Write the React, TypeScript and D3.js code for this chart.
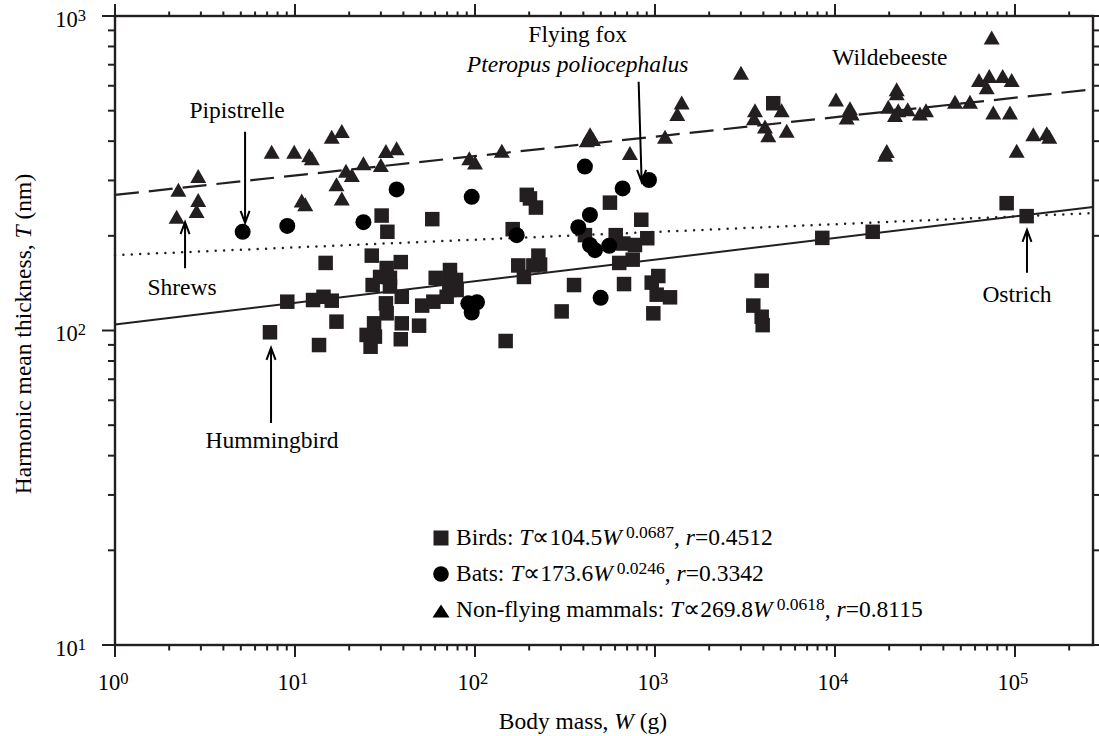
import { useEffect, useRef } from 'react'
import * as d3 from 'd3'

// [body mass W (g), harmonic mean thickness T (nm)]
const birds: [number, number][] = [
  [7.26, 98.7], [9.06, 123.5], [14.8, 164], [12.6, 125], [14.4, 128], [16.0, 124.4], [17.0, 106.7], [13.6, 89.9],
  [30.3, 232], [32.6, 206], [57.9, 226], [26.7, 173], [38.7, 165], [32.3, 158], [29.7, 148], [33.7, 147],
  [27.0, 139.5], [33.7, 138], [39.2, 128], [32.0, 122], [32.3, 113.4], [27.5, 105.4], [25.0, 96.8], [27.8, 95.6],
  [26.3, 88.8], [39.2, 105.4], [48.9, 103.6], [38.7, 93.8], [50.9, 120], [58.7, 123.5], [60.5, 147], [72.6, 155.7],
  [72.6, 146.6], [78.4, 144.8], [72.0, 134.5], [79.1, 134.5], [69.6, 128],
  [194, 270], [202, 263], [218, 246], [162, 210], [562, 255], [839, 225], [408, 201], [605, 201], [667, 189],
  [774, 187], [906, 196.5], [633, 164], [752, 168], [174, 161], [225, 173], [230, 162], [211, 161], [187, 148],
  [355, 139.5], [673, 140.5], [959, 142], [1043, 149], [1022, 130], [1212, 127.5], [303, 115], [979, 113.4], [148, 92.6],
  [3915, 144], [3517, 120], [3915, 110.6], [3965, 104], [8500, 197], [16200, 206], [89900, 254], [116100, 231], [4540, 528],
]
const bats: [number, number][] = [
  [5.12, 206], [9.06, 215], [24.0, 221], [36.7, 281], [95.9, 266], [91.8, 122], [102.6, 123], [95.9, 114],
  [170.5, 201], [408, 332], [661, 283], [926, 301], [435, 233], [375, 213], [435, 187], [464, 180], [557, 186], [499, 127],
]
const mammals: [number, number][] = [
  [2.25, 280], [2.90, 310], [2.90, 260], [2.84, 240], [2.20, 230], [7.42, 370], [9.9, 370], [12.0, 361], [12.4, 353],
  [16.0, 413], [18.2, 431], [10.9, 259], [11.4, 252], [17.0, 292], [18.2, 263], [19.2, 322], [20.7, 312], [24.0, 340],
  [30.0, 336], [32.0, 372], [36.7, 380], [93, 353], [100, 342], [141, 373], [418, 403], [436, 421], [452, 406],
  [726, 367], [1137, 413], [1407, 531], [1330, 488], [3004, 660], [3594, 502], [3548, 473], [4084, 445], [4260, 418],
  [5057, 502], [5392, 432], [10130, 543], [12115, 509], [12380, 490], [11614, 476], [22020, 585], [22020, 568],
  [19780, 515], [22470, 502], [21540, 484], [25340, 505], [29660, 490], [32030, 502], [46420, 534], [56230, 534],
  [63100, 626], [71990, 645], [69640, 593], [85440, 645], [95870, 626], [75770, 493], [93800, 493], [74240, 855],
  [19400, 372], [19000, 362], [102200, 373], [126400, 421], [150100, 424], [155100, 413],
]

// power law fits T = a * W^b
const fitNames = ['Birds', 'Bats', 'Non-flying mammals']
const fitA = [104.5, 173.6, 269.8]
const fitB = [0.0687, 0.0246, 0.0618]
const fitR = ['0.4512', '0.3342', '0.8115']

const xDomain = [1, 271300]
const yDomain = [10, 1000]

const font = '"Liberation Serif", "Times New Roman", serif'
const ink = '#231f20'

function triangle(cx: number, cy: number, w: number, h: number) {
  return `M${cx},${cy - h / 2}L${cx + w / 2},${cy + h / 2}L${cx - w / 2},${cy + h / 2}Z`
}

function isMajor(v: number) {
  const l = Math.log10(v)
  return Math.abs(l - Math.round(l)) < 1e-9
}

export default function App() {
  const svgRef = useRef<SVGSVGElement>(null)

  useEffect(() => {
    const svg = d3.select(svgRef.current)
    svg.selectAll('*').remove()
    const x = d3.scaleLog().domain(xDomain).range([115, 1093])
    const y = d3.scaleLog().domain(yDomain).range([645, 16])
    const [x0, x1] = x.range()
    const [y0, y1] = y.range()

    // fit lines
    const styles = [
      { w: 2, dash: null, cap: 'butt' },
      { w: 2.5, dash: '0 8.4', cap: 'round' },
      { w: 2.2, dash: '24 10', cap: 'butt' },
    ]
    fitA.forEach((a, i) => {
      const pts = x.domain().map(w => [x(w), y(a * Math.pow(w, fitB[i]))] as [number, number])
      svg.append('path')
        .attr('d', d3.line()(pts))
        .attr('fill', 'none')
        .attr('stroke', ink)
        .attr('stroke-width', styles[i].w)
        .attr('stroke-dasharray', styles[i].dash)
        .attr('stroke-linecap', styles[i].cap)
    })

    // points
    svg.append('g').selectAll('rect')
      .data(birds)
      .join('rect')
      .attr('x', d => x(d[0]) - 7.25)
      .attr('y', d => y(d[1]) - 7.25)
      .attr('width', 14.5)
      .attr('height', 14.5)
      .attr('fill', ink)
    svg.append('g').selectAll('circle')
      .data(bats)
      .join('circle')
      .attr('cx', d => x(d[0]))
      .attr('cy', d => y(d[1]))
      .attr('r', 8)
      .attr('fill', '#000')
    svg.append('g').selectAll('path')
      .data(mammals)
      .join('path')
      .attr('d', d => triangle(x(d[0]), y(d[1]), 16, 14))
      .attr('fill', ink)

    // frame and ticks
    svg.append('rect')
      .attr('x', x0).attr('y', y1)
      .attr('width', x1 - x0).attr('height', y0 - y1)
      .attr('fill', 'none').attr('stroke', ink).attr('stroke-width', 2.4)

    const xt = x.ticks()
    const yt = y.ticks()
    const tick = (sel: any) => sel.attr('stroke', ink).attr('stroke-width', 2)
    svg.append('g').selectAll('line').data(xt).join('line')
      .attr('x1', d => x(d)).attr('x2', d => x(d))
      .attr('y1', y0).attr('y2', d => y0 + (isMajor(d) ? 12 : 5.5))
      .call(tick)
    svg.append('g').selectAll('line').data(xt).join('line')
      .attr('x1', d => x(d)).attr('x2', d => x(d))
      .attr('y1', y1).attr('y2', d => y1 - (isMajor(d) ? 12 : 4.5))
      .call(tick)
    svg.append('g').selectAll('line').data(yt).join('line')
      .attr('y1', d => y(d)).attr('y2', d => y(d))
      .attr('x1', x0).attr('x2', d => x0 - (isMajor(d) ? 13 : 7))
      .call(tick)
    svg.append('g').selectAll('line').data(yt).join('line')
      .attr('y1', d => y(d)).attr('y2', d => y(d))
      .attr('x1', x1).attr('x2', d => x1 + (isMajor(d) ? 12 : 7))
      .call(tick)

    // tick labels
    const xl = svg.append('g').selectAll('text').data(xt.filter(isMajor)).join('text')
      .attr('x', d => x(d) - 2).attr('y', 690)
      .attr('text-anchor', 'middle').attr('font-size', 22.5)
    xl.append('tspan').text('10')
    xl.append('tspan').attr('dy', -6).attr('font-size', 16.5).text(d => Math.round(Math.log10(d)))
    const yl = svg.append('g').selectAll('text').data(yt.filter(isMajor)).join('text')
      .attr('x', 86).attr('y', d => y(d) + 10.8)
      .attr('text-anchor', 'end').attr('font-size', 22.5)
    yl.append('tspan').text('10')
    yl.append('tspan').attr('dy', -6).attr('font-size', 16.5).text(d => Math.round(Math.log10(d)))

    // axis titles
    const xTitle = svg.append('text').attr('x', 583).attr('y', 729)
      .attr('text-anchor', 'middle').attr('font-size', 23.5)
    xTitle.append('tspan').text('Body mass, ')
    xTitle.append('tspan').attr('font-style', 'italic').text('W')
    xTitle.append('tspan').text(' (g)')
    const yTitle = svg.append('text').attr('transform', 'translate(31,334) rotate(-90)')
      .attr('text-anchor', 'middle').attr('font-size', 23.5)
    yTitle.append('tspan').text('Harmonic mean thickness, ')
    yTitle.append('tspan').attr('font-style', 'italic').text('T')
    yTitle.append('tspan').text(' (nm)')

    // annotations: arrow tip in data units, tail offset and text offset in px
    const notes = [
      { text: 'Pipistrelle', w: 5.28, t: 220, len: -91, tx: -8, ty: -14 },
      { text: 'Shrews', w: 2.45, t: 221, len: 46, tx: -3, ty: 27 },
      { text: 'Hummingbird', w: 7.36, t: 88, len: 75, tx: 1, ty: 25 },
      { text: 'Ostrich', w: 116600, t: 209, len: 43, tx: -10, ty: 29 },
      { text: '', w: 843, t: 297, len: -100, tx: -64, ty: -10 },
    ]
    notes.forEach(n => {
      const px = x(n.w), py = y(n.t)
      const s = Math.sign(n.len)
      const tailX = n.text ? px : px - 3
      svg.append('path')
        .attr('d', `M${tailX},${py + n.len}L${px},${py}M${px - 4.5},${py + s * 12}L${px},${py}L${px + 4.5},${py + s * 12}`)
        .attr('fill', 'none').attr('stroke', '#000').attr('stroke-width', 2)
      if (n.text) {
        svg.append('text').attr('x', px + n.tx).attr('y', py + n.len + n.ty)
          .attr('text-anchor', 'middle').attr('font-size', 23.5).text(n.text)
      } else {
        svg.append('text').attr('x', px + n.tx).attr('y', py + n.len - 40)
          .attr('text-anchor', 'middle').attr('font-size', 23.5).text('Flying fox')
        svg.append('text').attr('x', px + n.tx).attr('y', py + n.len + n.ty)
          .attr('text-anchor', 'middle').attr('font-size', 23.5).attr('font-style', 'italic')
          .text('Pteropus poliocephalus')
      }
    })
    svg.append('text').attr('x', x(20200)).attr('y', y(700))
      .attr('text-anchor', 'middle').attr('font-size', 23.5).text('Wildebeeste')

    // legend
    fitNames.forEach((name, i) => {
      const base = 545 + i * 36
      const mx = 441, my = base - 7
      if (i === 0) svg.append('rect').attr('x', mx - 7.5).attr('y', my - 7.5).attr('width', 15).attr('height', 15).attr('fill', ink)
      if (i === 1) svg.append('circle').attr('cx', mx).attr('cy', my).attr('r', 7.8).attr('fill', '#000')
      if (i === 2) svg.append('path').attr('d', triangle(mx, my + 1, 17, 13)).attr('fill', '#000')
      const t = svg.append('text').attr('x', 456).attr('y', base).attr('font-size', 23.5)
      t.append('tspan').text(`${name}: `)
      t.append('tspan').attr('font-style', 'italic').text('T')
      t.append('tspan').text(`\u221d${fitA[i]}`)
      t.append('tspan').attr('font-style', 'italic').text('W')
      t.append('tspan').attr('dx', 4).attr('dy', -7).attr('font-size', 17.5).text(fitB[i].toFixed(4))
      t.append('tspan').attr('dy', 7).text(', ')
      t.append('tspan').attr('font-style', 'italic').text('r')
      t.append('tspan').text(`=${fitR[i]}`)
    })
  }, [])

  return (
    <>
      <style>{'body{margin:0}'}</style>
      <svg ref={svgRef} width={1099} height={736} fontFamily={font}
        style={{ display: 'block', background: '#fff' }} />
    </>
  )
}
